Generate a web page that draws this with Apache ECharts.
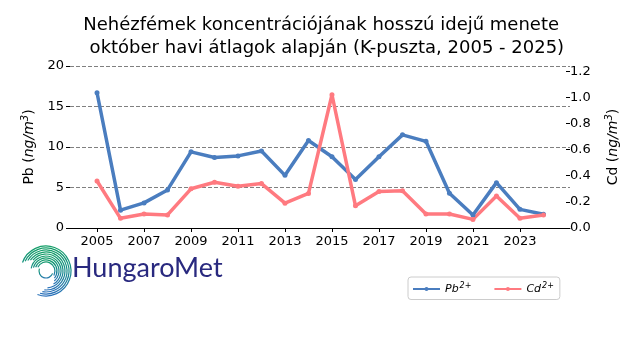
<!DOCTYPE html>
<html><head><meta charset="utf-8">
<script src="https://cdn.jsdelivr.net/npm/echarts@6/dist/echarts.min.js"></script>
<style>html,body{margin:0;padding:0;background:#fff}#c{width:640px;height:360px}</style>
</head><body><div id="c"></div>
<script>
var years = [2005,2006,2007,2008,2009,2010,2011,2012,2013,2014,2015,2016,2017,2018,2019,2020,2021,2022,2023,2024];
var pb = [16.7,2.2,3.1,4.7,9.4,8.7,8.9,9.5,6.5,10.8,8.8,6.0,8.8,11.5,10.7,4.3,1.6,5.6,2.3,1.7];
var cd = [0.36,0.074,0.107,0.10,0.30,0.35,0.32,0.34,0.19,0.265,1.02,0.17,0.28,0.285,0.107,0.107,0.066,0.245,0.074,0.10];
var xTicks = [2005,2007,2009,2011,2013,2015,2017,2019,2021,2023];
var cdTicks = [0,0.2,0.4,0.6,0.8,1.0,1.2];
var titleText = 'Nehézfémek koncentrációjának hosszú idejű menete \n október havi átlagok alapján (K-puszta, 2005 - 2025)';

var FONT = 'DejaVu Sans';
var chart = echarts.init(document.getElementById('c'), null, {renderer:'canvas'});
function pairs(v){ return years.map(function(y,i){return [y, v[i]];}); }

var logoArcs = [];
var cx = 46, cy = 271;
var arcDefs = [
  [25, 200, 470], [23, 205, 465], [21, 210, 460], [19, 215, 455], [17, 220, 445],
  [15, 190, 420], [13, 195, 410], [11, 200, 400], [9, 205, 390], [7, 20, 200]
];
arcDefs.forEach(function(a){
  logoArcs.push({
    type:'arc', silent:true,
    shape:{cx:cx, cy:cy, r:a[0], startAngle:a[1]*Math.PI/180, endAngle:a[2]*Math.PI/180},
    style:{fill:null, lineWidth:1.2, stroke:new echarts.graphic.LinearGradient(0,0,0,1,[{offset:0,color:'#14a064'},{offset:0.5,color:'#168c8a'},{offset:1,color:'#2f6fc0'}])}
  });
});

chart.setOption({
  animation:false,
  title:{
    text:titleText, left:319, top:9, textAlign:'center',
    textStyle:{fontFamily:FONT, fontSize:18, fontWeight:'normal', color:'#000', lineHeight:23}
  },
  grid:{left:70, right:70, top:66, bottom:132, containLabel:false},
  legend:{
    left:408, top:277, orient:'horizontal',
    backgroundColor:'#fff', borderColor:'#cccccc', borderWidth:1, borderRadius:3,
    padding:[5,6,5,4], itemGap:22, itemWidth:27, itemHeight:5,
    data:[{name:'Pb'},{name:'Cd'}],
    formatter:function(n){ return '{i|'+n+'}{s|2+}'; },
    textStyle:{fontFamily:FONT, fontSize:11, color:'#000',
      rich:{i:{fontFamily:FONT, fontStyle:'italic', fontSize:11}, s:{fontFamily:FONT, fontStyle:'italic', fontSize:8, verticalAlign:'bottom', padding:[0,0,6,1]}}}
  },
  xAxis:{
    type:'value', min:2003.85, max:2025.13,
    axisLine:{show:true, lineStyle:{color:'#000', width:1}},
    axisTick:{show:true, customValues:xTicks, length:4, lineStyle:{color:'#000'}},
    axisLabel:{show:true, customValues:xTicks, color:'#000', fontFamily:FONT, fontSize:13, margin:7, formatter:function(v){return String(v);}},
    splitLine:{show:false}
  },
  yAxis:[{
    type:'value', min:0, max:20, interval:5, position:'left',
    name:'{n|Pb (}{i|ng/m}{s|3}{n|)}', nameLocation:'middle', nameGap:32, nameRotate:90,
    nameTextStyle:{fontFamily:FONT, fontSize:14, color:'#000',
      rich:{n:{fontFamily:FONT,fontSize:14}, i:{fontFamily:FONT,fontSize:14,fontStyle:'italic'}, s:{fontFamily:FONT,fontSize:10,fontStyle:'italic',verticalAlign:'bottom',padding:[0,0,8,0]}}},
    axisLine:{show:false},
    axisTick:{show:true, length:4, lineStyle:{color:'#000'}},
    axisLabel:{color:'#000', fontFamily:FONT, fontSize:13, margin:6},
    splitLine:{show:true, lineStyle:{color:'#808080', type:[4,2], width:1}}
  },{
    type:'value', min:0, max:1.24, position:'right', offset:-4,
    name:'{n|Cd (}{i|ng/m}{s|3}{n|)}', nameLocation:'middle', nameGap:38, nameRotate:90,
    nameTextStyle:{fontFamily:FONT, fontSize:14, color:'#000',
      rich:{n:{fontFamily:FONT,fontSize:14}, i:{fontFamily:FONT,fontSize:14,fontStyle:'italic'}, s:{fontFamily:FONT,fontSize:10,fontStyle:'italic',verticalAlign:'bottom',padding:[0,0,8,0]}}},
    axisLine:{show:false},
    axisTick:{show:true, customValues:cdTicks, length:4, lineStyle:{color:'#000'}},
    axisLabel:{customValues:cdTicks, color:'#000', fontFamily:FONT, fontSize:13, margin:4, formatter:function(v){return v.toFixed(1);}},
    splitLine:{show:false}
  }],
  series:[{
    name:'Pb', type:'line', yAxisIndex:0, data:pairs(pb),
    symbol:'circle', symbolSize:5, showSymbol:true,
    lineStyle:{color:'#4a7dbf', width:3.5}, itemStyle:{color:'#4a7dbf'}
  },{
    name:'Cd', type:'line', yAxisIndex:1, data:pairs(cd),
    symbol:'circle', symbolSize:5, showSymbol:true,
    lineStyle:{color:'#ff7a80', width:3.5}, itemStyle:{color:'#ff7a80'}
  }],
  graphic:logoArcs.concat([{
    type:'text', left:72, top:255, silent:true,
    style:{text:'HungaroMet', fontFamily:'Lato', fontSize:27, fontWeight:'normal', fill:'#29297f'}
  }])
});
</script></body></html>
